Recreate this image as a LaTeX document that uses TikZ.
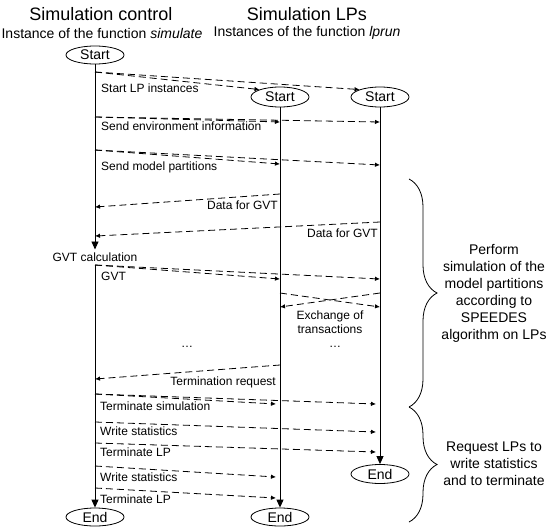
\documentclass[tikz,border=0pt]{standalone}
\usepackage{fontspec}
\setmainfont{Liberation Sans}
\usetikzlibrary{arrows.meta,shapes.geometric,decorations.pathreplacing}
\begin{document}
\begin{tikzpicture}[x=1pt,y=-1pt,
  lifeline/.style={line width=0.9pt,-{Triangle[length=8pt,width=7pt]}},
  msg/.style={line width=0.8pt,dash pattern=on 7pt off 4pt,-{Latex[length=5pt,width=4.5pt]}},
  proc/.style={ellipse,draw,line width=0.8pt,minimum width=58pt,minimum height=19pt,inner sep=0pt,font=\fontsize{14}{16}\selectfont},
  lbl/.style={font=\fontsize{12}{14}\selectfont,inner sep=0pt,text height=8.6pt,text depth=0pt},
  title/.style={font=\fontsize{18}{20}\selectfont,inner sep=0pt},
  subtitle/.style={font=\fontsize{14}{16}\selectfont,inner sep=0pt},
  side/.style={font=\fontsize{14}{17}\selectfont,align=center,inner sep=0pt},
  bracestyle/.style={line width=0.8pt,decorate,decoration={brace,amplitude=28pt}}]
\useasboundingbox (0,0) rectangle (551,528);
\fill[white] (0,0) rectangle (551,528);

% titles
\node[title] (t1) at (101,14) {Simulation control};
\node[subtitle] (s1) at (102,33) {Instance of the function \textit{simulate}};
\node[title] (t2) at (307,14) {Simulation LPs};
\node[subtitle] (s2) at (307,33) {Instances of the function \textit{lprun}};

% process nodes
\node[proc,minimum height=18pt] (cs) at (95,55) {Start};
\node[proc,minimum height=20pt] (lp1s) at (280,97) {Start};
\node[proc,minimum height=20pt] (lp2s) at (380,97) {Start};
\node[proc,minimum height=18pt] (ce) at (95,517) {End};
\node[proc,minimum height=18pt] (lp1e) at (280,517) {End};
\node[proc,minimum height=19pt] (lp2e) at (380,474) {End};
\node[lbl,inner ysep=3pt] (gvtc) at (95,257) {GVT calculation};

% lifelines
\draw[lifeline] (cs) -- (gvtc);
\draw[lifeline] (gvtc) -- (ce);
\draw[lifeline] (lp1s) -- (lp1e);
\draw[lifeline] (lp2s) -- (lp2e);

% points on lifelines
\coordinate (c72) at (95,72);
\coordinate (c117) at (95,117);
\coordinate (c150) at (95,150);
\coordinate (c207) at (95,207);
\coordinate (c236) at (95,236);
\coordinate (c265) at (95,265);
\coordinate (c379) at (95,379);
\coordinate (c394) at (95,394);
\coordinate (c422) at (95,422);
\coordinate (c443) at (95,443);
\coordinate (c466) at (95,466);
\coordinate (c488) at (95,488);
\coordinate (a122) at (280,122);
\coordinate (a164) at (280,164);
\coordinate (a194) at (280,194);
\coordinate (a279) at (280,279);
\coordinate (a293) at (280,293);
\coordinate (a307) at (280,307);
\coordinate (a365) at (280,365);
\coordinate (a404) at (276,404);
\coordinate (a477) at (276,477);
\coordinate (a498) at (276,498);
\coordinate (b122) at (380,122);
\coordinate (b165) at (380,165);
\coordinate (b222) at (380,222);
\coordinate (b279) at (380,279);
\coordinate (b293) at (380,293);
\coordinate (b307) at (380,307);
\coordinate (b404) at (376,404);
\coordinate (b432) at (376,432);
\coordinate (b452) at (376,452);

% messages
\draw[msg] (c72) -- (lp1s.160);
\draw[msg] (c72) -- (lp2s.160);
\draw[msg] (c117) -- (a122);
\draw[msg] (c117) -- (b122);
\draw[msg] (c150) -- (a164);
\draw[msg] (c150) -- (b165);
\draw[msg] (a194) -- (c207);
\draw[msg] (b222) -- (c236);
\draw[msg] (c265) -- (a279);
\draw[msg] (c265) -- (b279);
\draw[msg] (a293) -- (b307);
\draw[msg] (b293) -- (a307);
\draw[msg] (a365) -- (c379);
\draw[msg] (c394) -- (a404);
\draw[msg] (c394) -- (b404);
\draw[msg] (c422) -- (b432);
\draw[msg] (c443) -- (b452);
\draw[msg] (c466) -- (a477);
\draw[msg] (c488) -- (a498);

% labels
\node[lbl,anchor=west] (l1) at (101,88) {Start LP instances};
\node[lbl,anchor=west] (l2) at (101,126) {Send environment information};
\node[lbl,anchor=west] (l3) at (101,166) {Send model partitions};
\node[lbl,anchor=east] (l4) at (278,205) {Data for GVT};
\node[lbl,anchor=east] (l5) at (378,233) {Data for GVT};
\node[lbl,anchor=west] (l6) at (101,276) {GVT};
\node[font=\fontsize{12}{14}\selectfont,align=center,inner sep=0pt] (l7) at (330,322) {Exchange of\\transactions};
\node[lbl] (d1) at (187,343) {…};
\node[lbl] (d2) at (335,343) {…};
\node[lbl,anchor=east] (l8) at (276,381) {Termination request};
\node[lbl,anchor=west] (l9) at (100,406) {Terminate simulation};
\node[lbl,anchor=west] (l10) at (100,431) {Write statistics};
\node[lbl,anchor=west] (l11) at (100,452) {Terminate LP};
\node[lbl,anchor=west] (l12) at (100,477) {Write statistics};
\node[lbl,anchor=west] (l13) at (100,499) {Terminate LP};

% braces
\coordinate (br1) at (409,179);
\coordinate (br2) at (409,407);
\coordinate (br3) at (409,522);
\draw[bracestyle] (br1) -- (br2);
\draw[bracestyle] (br2) -- (br3);
\node[side] (p1) at (494,293) {Perform\\simulation of the\\model partitions\\according to\\SPEEDES\\algorithm on LPs};
\node[side] (p2) at (494,464) {Request LPs to\\write statistics\\and to terminate};
\end{tikzpicture}
\end{document}
